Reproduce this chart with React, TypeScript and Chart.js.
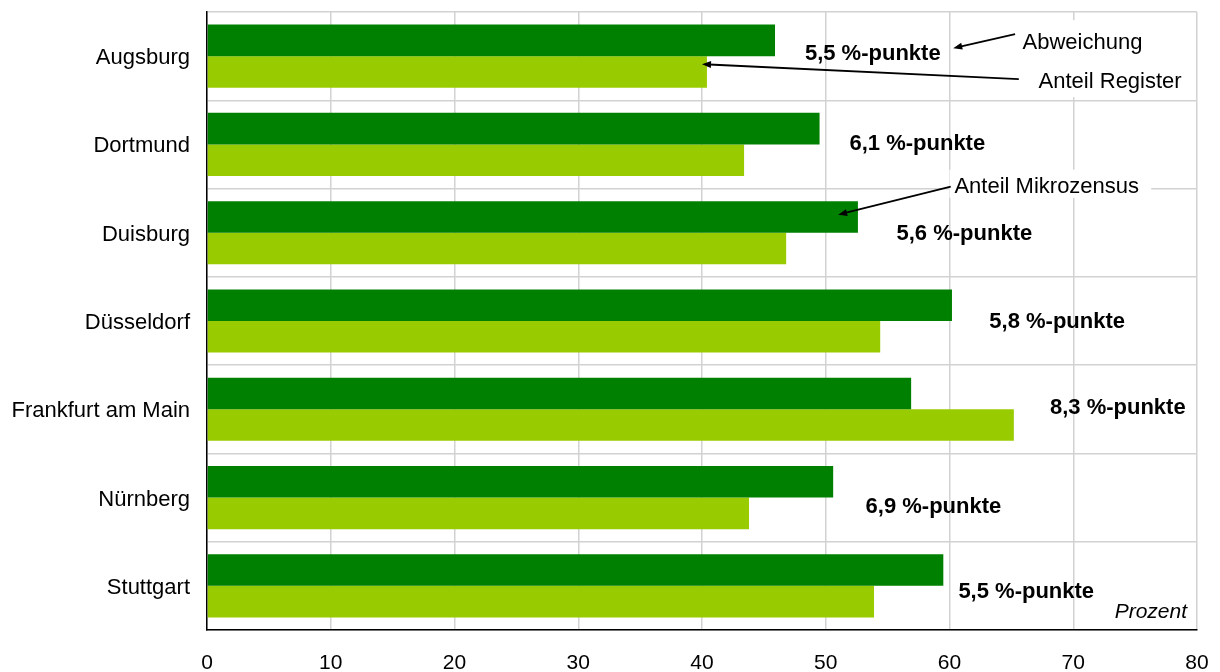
import { useEffect, useRef } from 'react';
import { Chart, registerables } from 'chart.js';

Chart.register(...registerables);

// ---- data ----
const categories = ['Augsburg', 'Dortmund', 'Duisburg', 'Düsseldorf', 'Frankfurt am Main', 'Nürnberg', 'Stuttgart'];
const anteilMikrozensus = [45.9, 49.5, 52.6, 60.2, 56.9, 50.6, 59.5];
const anteilRegister = [40.4, 43.4, 46.8, 54.4, 65.2, 43.8, 53.9];
const abweichungLabels = ['5,5 %-punkte', '6,1 %-punkte', '5,6 %-punkte', '5,8 %-punkte', '8,3 %-punkte', '6,9 %-punkte', '5,5 %-punkte'];
const xMin = 0;
const xMax = 80;
const xStep = 10;
const unitLabel = 'Prozent';

// ---- label layout (value-axis centre, pixel offset from category centre) ----
const labelCenterX = [53.8, 57.4, 61.2, 68.7, 73.6, 58.7, 66.2];
const labelDy = [-4, -2.5, -1, -1, -3, 7, 4];
const TEXT_SHIFT = 2;

type Callout = {
  text: string;
  cat: number;
  textX: number;
  textDy: number;
  from: [number, number];
  to: [number, number];
};
const callouts: Callout[] = [
  { text: 'Abweichung', cat: 0, textX: 65.9, textDy: -15, from: [65.3, -22], to: [60.3, -8] },
  { text: 'Anteil Register', cat: 0, textX: 67.2, textDy: 24, from: [65.6, 23], to: [40.0, 8] },
  { text: 'Anteil Mikrozensus', cat: 2, textX: 60.4, textDy: -48, from: [60.1, -46], to: [51.0, -18] },
];
// white masks: [xFrom, xTo, cat, dyTop, dyBottom]
const masks: [number, number, number, number, number][] = [
  [65.5, 79.3, 0, -36, 41],
  [60.0, 76.3, 2, -63, -35],
];

const FONT = '"Liberation Sans", Arial, Helvetica, sans-serif';

function drawArrow(ctx: CanvasRenderingContext2D, x1: number, y1: number, x2: number, y2: number) {
  const ang = Math.atan2(y2 - y1, x2 - x1);
  const head = 9;
  const half = 3.5;
  ctx.save();
  ctx.strokeStyle = '#000';
  ctx.fillStyle = '#000';
  ctx.lineWidth = 1.8;
  ctx.beginPath();
  ctx.moveTo(x1, y1);
  ctx.lineTo(x2 - Math.cos(ang) * head * 0.8, y2 - Math.sin(ang) * head * 0.8);
  ctx.stroke();
  ctx.beginPath();
  ctx.moveTo(x2, y2);
  ctx.lineTo(x2 - Math.cos(ang) * head - Math.sin(ang) * half, y2 - Math.sin(ang) * head + Math.cos(ang) * half);
  ctx.lineTo(x2 - Math.cos(ang) * head + Math.sin(ang) * half, y2 - Math.sin(ang) * head - Math.cos(ang) * half);
  ctx.closePath();
  ctx.fill();
  ctx.restore();
}

const annotationPlugin = {
  id: 'annotations',
  afterDatasetsDraw(chart: any) {
    const ctx: CanvasRenderingContext2D = chart.ctx;
    const xs = chart.scales.x;
    const ys = chart.scales.y;
    const X = (v: number) => xs.getPixelForValue(v);
    const Y = (c: number, dy: number) => ys.getPixelForValue(c) + dy;

    ctx.save();
    ctx.fillStyle = '#fff';
    masks.forEach(([a, b, c, t, btm]) => {
      ctx.fillRect(X(a), Y(c, t), X(b) - X(a), btm - t);
    });

    ctx.fillStyle = '#000';
    ctx.font = `bold 22px ${FONT}`;
    ctx.textAlign = 'center';
    ctx.textBaseline = 'middle';
    abweichungLabels.forEach((t, i) => {
      ctx.fillText(t, X(labelCenterX[i]), Y(i, labelDy[i] + TEXT_SHIFT));
    });

    ctx.font = `22px ${FONT}`;
    ctx.textAlign = 'left';
    callouts.forEach((c) => {
      ctx.fillStyle = '#000';
      ctx.fillText(c.text, X(c.textX), Y(c.cat, c.textDy + TEXT_SHIFT));
      drawArrow(ctx, X(c.from[0]), Y(c.cat, c.from[1]), X(c.to[0]), Y(c.cat, c.to[1]));
    });

    ctx.font = `italic 21px ${FONT}`;
    ctx.textAlign = 'right';
    ctx.fillStyle = '#000';
    ctx.fillText(unitLabel, chart.chartArea.right - 10, chart.chartArea.bottom - 20 + TEXT_SHIFT);
    ctx.restore();
  },
};

export default function App() {
  const ref = useRef<HTMLCanvasElement | null>(null);
  useEffect(() => {
    document.body.style.margin = '0';
    if (!ref.current) return;
    const chart = new Chart(ref.current, {
      type: 'bar',
      data: {
        labels: categories,
        datasets: [
          {
            label: 'Anteil Mikrozensus',
            data: anteilMikrozensus,
            backgroundColor: '#008000',
            borderWidth: 0,
            categoryPercentage: 0.715,
            barPercentage: 1,
          },
          {
            label: 'Anteil Register',
            data: anteilRegister,
            backgroundColor: '#99cc00',
            borderWidth: 0,
            categoryPercentage: 0.715,
            barPercentage: 1,
          },
        ],
      },
      options: {
        indexAxis: 'y',
        animation: false,
        responsive: false,
        layout: { padding: { left: 0, right: 23, top: 12, bottom: 0 } },
        plugins: {
          legend: { display: false },
          tooltip: { enabled: false },
        },
        scales: {
          x: {
            min: xMin,
            max: xMax,
            ticks: {
              stepSize: xStep,
              color: '#000',
              font: { family: FONT, size: 21 },
              padding: 21,
            },
            grid: { color: '#d2d2d2', lineWidth: 1.5, drawTicks: false },
            border: { display: true, color: '#000', width: 1.5 },
            afterFit: (s: any) => {
              s.height = 42;
              s.paddingLeft = 0;
              s.paddingRight = 0;
            },
          },
          y: {
            ticks: {
              color: '#000',
              font: { family: FONT, size: 22 },
              padding: 17,
              labelOffset: 2,
            },
            grid: { color: '#d2d2d2', lineWidth: 1.5, drawTicks: false, offset: true },
            border: { display: true, color: '#000', width: 1.5 },
            afterFit: (s: any) => {
              s.width = 207;
              s.paddingTop = 0;
              s.paddingBottom = 0;
            },
          },
        },
      },
      plugins: [annotationPlugin],
    });
    return () => chart.destroy();
  }, []);
  return <canvas ref={ref} width={1220} height={672} style={{ display: 'block' }} />;
}
